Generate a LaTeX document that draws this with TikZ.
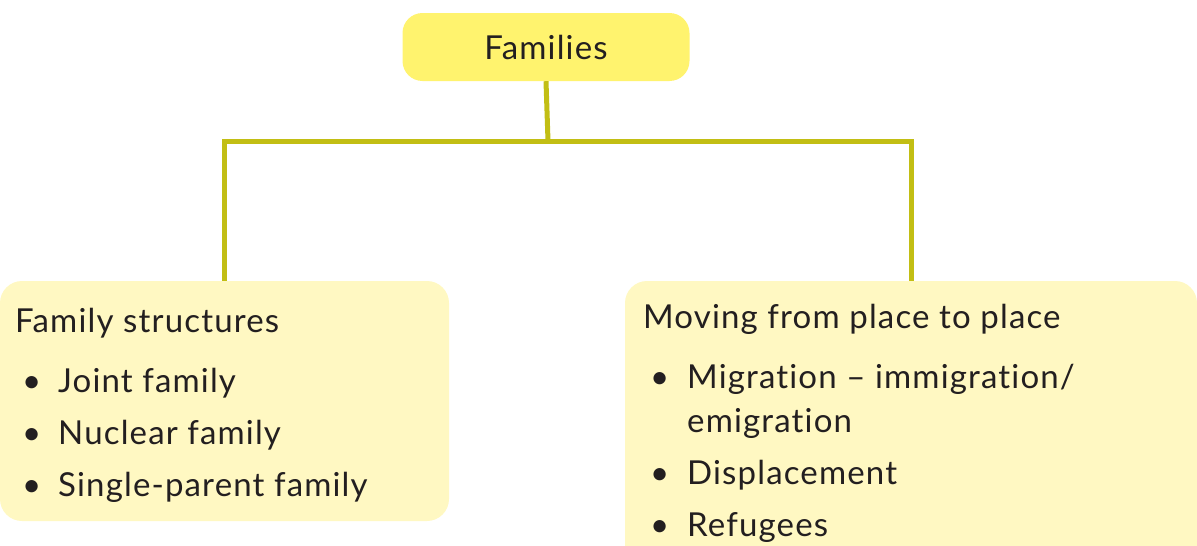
\documentclass[tikz,border=0pt]{standalone}
\usepackage{fontspec}
\setmainfont{Lato}[LetterSpace=3.5,Ligatures=NoCommon]
\definecolor{topfill}{HTML}{FFF36E}
\definecolor{boxfill}{HTML}{FFF8C2}
\definecolor{linecol}{HTML}{C2BE14}
\definecolor{ink}{HTML}{231F20}
\begin{document}
\begin{tikzpicture}[x=1pt,y=-1pt,
  txt/.style={anchor=base west, inner sep=0pt, text=ink, font=\fontsize{33}{38}\selectfont},
  topbox/.style={fill=topfill, rounded corners=20pt, minimum width=287pt, minimum height=68pt, inner sep=0pt, text=ink, font=\fontsize{33}{38}\selectfont},
  subbox/.style={fill=boxfill, rounded corners=22pt, inner sep=0pt},
  conn/.style={draw=linecol, line width=5pt}]
\useasboundingbox (0,0) rectangle (1197,546);
\clip (0,0) rectangle (1197,546);
\node[subbox, minimum width=449pt, minimum height=240pt] (left) at (224.5,401) {};
\node[subbox, minimum width=572pt, minimum height=290pt] (right) at (911,426) {};
\node[topbox] (fam) at (546,47) {Families};
\coordinate (hub) at (548,141);
\draw[conn] (fam.south) -- (hub);
\draw[conn] (left.north) |- (hub) -| (right.north);
% left box text
\node[txt] (l0) at (15,332) {Family structures};
\node[txt] (lb1) at (22,392) {\textbullet};
\node[txt] (l1) at (58,392) {Joint family};
\node[txt] (lb2) at (22,444) {\textbullet};
\node[txt] (l2) at (58,444) {Nuclear family};
\node[txt] (lb3) at (22,496) {\textbullet};
\node[txt] (l3) at (58,496) {Single-parent family};
% right box text
\node[txt] (r0) at (643,328) {Moving from place to place};
\node[txt] (rb1) at (650,388) {\textbullet};
\node[txt] (r1) at (687,388) {Migration – immigration/};
\node[txt] (r1b) at (687,432) {emigration};
\node[txt] (rb2) at (650,484) {\textbullet};
\node[txt] (r2) at (687,484) {Displacement};
\node[txt] (rb3) at (650,536) {\textbullet};
\node[txt] (r3) at (687,536) {Refugees};
\end{tikzpicture}
\end{document}
